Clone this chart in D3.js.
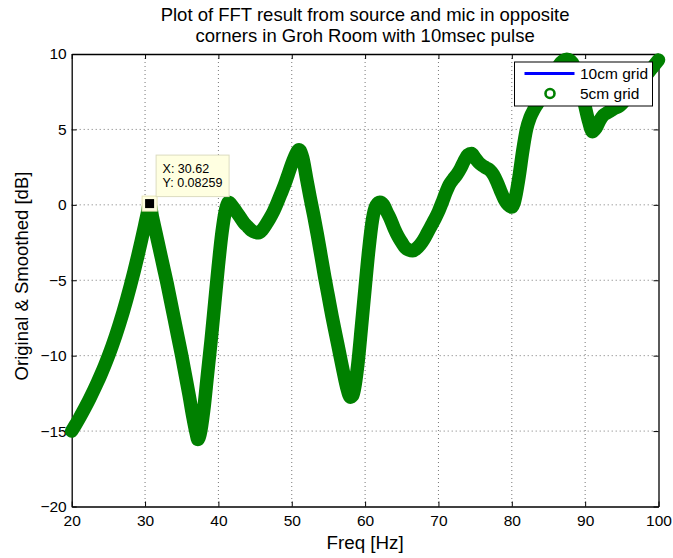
<!DOCTYPE html>
<html>
<head>
<meta charset="utf-8">
<script src="https://cdn.jsdelivr.net/npm/d3@7"></script>
<style>
  body { margin: 0; background: #fff; }
  text { font-family: "Liberation Sans", Arial, sans-serif; }
</style>
</head>
<body>
<div id="chart"></div>
<script>
// values
var freqHz = [20, 20.5, 21, 21.5, 22, 22.5, 23, 23.5, 24, 24.5, 25, 25.5, 26, 26.5, 27, 27.5, 28, 28.5, 29, 29.5,
  30, 30.3, 30.62, 31, 31.5, 32, 32.5, 33, 33.5, 34, 34.5, 35, 35.5, 36, 36.5, 37, 37.2, 37.5, 38, 38.5,
  39, 39.5, 40, 40.5, 41, 41.4, 42, 42.5, 43, 43.5, 44, 44.5, 45, 45.5, 46, 46.5, 47, 47.5, 48, 48.5,
  49, 49.5, 50, 50.5, 51, 51.5, 52, 52.5, 53, 53.5, 54, 54.5, 55, 55.5, 56, 56.5, 57, 57.5, 58, 58.3,
  58.5, 59, 59.5, 60, 60.5, 61, 61.5, 62, 62.5, 63, 63.5, 64, 64.5, 65, 65.5, 66, 66.5, 67, 67.5, 68,
  68.5, 69, 69.5, 70, 70.5, 71, 71.5, 72, 72.5, 73, 73.5, 74, 74.5, 75, 75.5, 76, 76.5, 77, 77.5, 78,
  78.5, 79, 79.5, 80, 80.3, 80.5, 81, 81.5, 82, 82.5, 83, 83.5, 84, 84.5, 85, 85.5, 86, 86.5, 87, 87.5,
  88, 88.5, 89, 89.5, 90, 90.5, 91, 91.5, 92, 92.5, 93, 93.5, 94, 94.5, 95, 95.5, 96, 96.5, 97, 97.5,
  98, 98.5, 99, 99.5, 100];

var grid10cm = [-15.0, -14.6, -14.18, -13.74, -13.28, -12.8, -12.3, -11.78, -11.23, -10.65, -10.03, -9.37, -8.67, -7.92, -7.12, -6.27, -5.37, -4.42, -3.42, -2.37,
  -1.27, -0.6, 0.08, -0.8, -1.9, -3.0, -4.1, -5.2, -6.4, -7.6, -8.8, -10.0, -11.3, -12.6, -14.0, -15.2, -15.55, -15.2, -13.6, -11.3,
  -9.0, -6.5, -4.0, -1.8, -0.3, 0.17, -0.15, -0.5, -0.85, -1.2, -1.45, -1.7, -1.82, -1.85, -1.65, -1.3, -0.9, -0.45, 0.1, 0.7,
  1.3, 2.0, 2.7, 3.3, 3.65, 3.1, 1.8, 0.5, -0.7, -2.0, -3.4, -4.8, -6.1, -7.4, -8.6, -9.8, -11.0, -12.1, -12.75, -12.65,
  -12.3, -10.6, -8.1, -5.5, -3.0, -1.0, -0.05, 0.17, 0.0, -0.5, -1.0, -1.6, -2.1, -2.5, -2.85, -3.0, -3.05, -2.9, -2.65, -2.3,
  -1.85, -1.4, -0.95, -0.45, 0.15, 0.8, 1.35, 1.7, 2.0, 2.4, 2.9, 3.3, 3.4, 3.1, 2.8, 2.6, 2.45, 2.3, 2.0, 1.5,
  0.9, 0.35, 0.0, -0.15, 0.1, 0.5, 1.9, 3.6, 5.0, 5.8, 6.3, 6.7, 7.1, 7.5, 8.0, 8.45, 8.9, 9.3, 9.55, 9.65,
  9.55, 9.2, 8.5, 7.6, 6.5, 5.5, 4.85, 5.1, 5.6, 5.95, 6.1, 6.25, 6.4, 6.5, 6.7, 7.0, 7.3, 7.6, 7.9, 8.15,
  8.4, 8.7, 9.0, 9.3, 9.6];

// the 5cm result lies right on top of the 10cm one in the picture
var grid5cm = [-15.0, -14.6, -14.18, -13.74, -13.28, -12.8, -12.3, -11.78, -11.23, -10.65, -10.03, -9.37, -8.67, -7.92, -7.12, -6.27, -5.37, -4.42, -3.42, -2.37,
  -1.27, -0.6, 0.08, -0.8, -1.9, -3.0, -4.1, -5.2, -6.4, -7.6, -8.8, -10.0, -11.3, -12.6, -14.0, -15.2, -15.55, -15.2, -13.6, -11.3,
  -9.0, -6.5, -4.0, -1.8, -0.3, 0.17, -0.15, -0.5, -0.85, -1.2, -1.45, -1.7, -1.82, -1.85, -1.65, -1.3, -0.9, -0.45, 0.1, 0.7,
  1.3, 2.0, 2.7, 3.3, 3.65, 3.1, 1.8, 0.5, -0.7, -2.0, -3.4, -4.8, -6.1, -7.4, -8.6, -9.8, -11.0, -12.1, -12.75, -12.65,
  -12.3, -10.6, -8.1, -5.5, -3.0, -1.0, -0.05, 0.17, 0.0, -0.5, -1.0, -1.6, -2.1, -2.5, -2.85, -3.0, -3.05, -2.9, -2.65, -2.3,
  -1.85, -1.4, -0.95, -0.45, 0.15, 0.8, 1.35, 1.7, 2.0, 2.4, 2.9, 3.3, 3.4, 3.1, 2.8, 2.6, 2.45, 2.3, 2.0, 1.5,
  0.9, 0.35, 0.0, -0.15, 0.1, 0.5, 1.9, 3.6, 5.0, 5.8, 6.3, 6.7, 7.1, 7.5, 8.0, 8.45, 8.9, 9.3, 9.55, 9.65,
  9.55, 9.2, 8.5, 7.6, 6.5, 5.5, 4.85, 5.1, 5.6, 5.95, 6.1, 6.25, 6.4, 6.5, 6.7, 7.0, 7.3, 7.6, 7.9, 8.15,
  8.4, 8.7, 9.0, 9.3, 9.6];

var xTicks = [20, 30, 40, 50, 60, 70, 80, 90, 100];
var yTicks = [-20, -15, -10, -5, 0, 5, 10];
var seriesNames = ["10cm grid", "5cm grid"];
var titleLines = ["Plot of FFT result from source and mic in opposite", "corners in Groh Room with 10msec pulse"];
var tipX = 30.62;
var tipY = 0.08259;

var svgWidth = 673;
var svgHeight = 558;

var margin = {top: 54, right: 14.5, bottom: 51.5, left: 71.7};
var width = svgWidth - margin.left - margin.right;
var height = svgHeight - margin.top - margin.bottom;

var svg = d3.select("#chart")
  .append("svg")
  .attr("width", svgWidth)
  .attr("height", svgHeight);

var g = svg.append("g")
  .attr("transform", "translate(" + margin.left + "," + margin.top + ")");

var x = d3.scaleLinear().domain([20, 100]).range([0, width]);
var y = d3.scaleLinear().domain([-20, 10]).range([height, 0]);

// dotted grid
g.append("g").selectAll("line")
  .data(xTicks.slice(1, -1))
  .enter().append("line")
  .attr("x1", d => x(d)).attr("x2", d => x(d))
  .attr("y1", 0).attr("y2", height)
  .attr("stroke", "#777").attr("stroke-width", 1).attr("stroke-dasharray", "1,3");

g.append("g").selectAll("line")
  .data(yTicks.slice(1, -1))
  .enter().append("line")
  .attr("y1", d => y(d)).attr("y2", d => y(d))
  .attr("x1", 0).attr("x2", width)
  .attr("stroke", "#777").attr("stroke-width", 1).attr("stroke-dasharray", "1,3");

// axes, ticks pointing inward like matlab
var xAxis = g.append("g")
  .attr("transform", "translate(0," + height + ")")
  .call(d3.axisBottom(x).tickValues(xTicks).tickSizeInner(-5).tickSizeOuter(0).tickPadding(8.5));
var xTop = g.append("g")
  .call(d3.axisTop(x).tickValues(xTicks).tickSizeInner(-5).tickSizeOuter(0).tickFormat(""));
var yAxis = g.append("g")
  .call(d3.axisLeft(y).tickValues(yTicks).tickSizeInner(-5).tickSizeOuter(0).tickPadding(5));
var yRight = g.append("g")
  .attr("transform", "translate(" + width + ",0)")
  .call(d3.axisRight(y).tickValues(yTicks).tickSizeInner(-5).tickSizeOuter(0).tickFormat(""));

[xAxis, xTop, yAxis, yRight].forEach(function(a) {
  a.select(".domain").attr("stroke", "#000").attr("stroke-width", 1.3);
  a.selectAll(".tick line").attr("stroke", "#000");
  a.selectAll("text").attr("font-size", 15.5).attr("fill", "#000")
    .style("font-family", "'Liberation Sans', Arial, sans-serif");
});
xAxis.selectAll("text").attr("dy", "0.71em");

var pts10 = freqHz.map((f, i) => [f, grid10cm[i]]);
var pts5 = freqHz.map((f, i) => [f, grid5cm[i]]);

var line = d3.line()
  .x(d => x(d[0]))
  .y(d => y(d[1]))
  .curve(d3.curveMonotoneX);

g.append("path")
  .datum(pts10)
  .attr("d", line)
  .attr("fill", "none")
  .attr("stroke", "#0000ff")
  .attr("stroke-width", 2);

// the dense ring markers of the 5cm series merge into one thick band
g.append("path")
  .datum(pts5)
  .attr("d", line)
  .attr("fill", "none")
  .attr("stroke", "#008000")
  .attr("stroke-width", 13.5)
  .attr("stroke-linejoin", "round")
  .attr("stroke-linecap", "round");

// data tip
var tip = g.append("g");
tip.append("rect")
  .attr("x", x(tipX) - 7.5).attr("y", y(tipY) - 7.5)
  .attr("width", 15).attr("height", 15)
  .attr("fill", "#ffffe1").attr("stroke", "#e8e4b8");
tip.append("rect")
  .attr("x", x(tipX) - 4.5).attr("y", y(tipY) - 4.5)
  .attr("width", 9).attr("height", 9)
  .attr("fill", "#000");
tip.append("rect")
  .attr("x", x(tipX) + 6.5).attr("y", y(tipY) - 48.5)
  .attr("width", 73).attr("height", 41.5)
  .attr("fill", "#ffffe1").attr("stroke", "#dcdcc0");
tip.append("text")
  .attr("x", x(tipX) + 13).attr("y", y(tipY) - 30.5)
  .attr("font-size", 12.5)
  .text("X: " + tipX);
tip.append("text")
  .attr("x", x(tipX) + 13).attr("y", y(tipY) - 17)
  .attr("font-size", 12.5)
  .text("Y: " + tipY);

// legend
var legend = svg.append("g").attr("transform", "translate(514.5,62)");
legend.append("rect")
  .attr("width", 138).attr("height", 44)
  .attr("fill", "#fff").attr("stroke", "#000").attr("stroke-width", 1);
legend.append("line")
  .attr("x1", 10).attr("x2", 60).attr("y1", 11.5).attr("y2", 11.5)
  .attr("stroke", "#0000ff").attr("stroke-width", 3);
legend.append("circle")
  .attr("cx", 35.5).attr("cy", 31.5).attr("r", 4.5)
  .attr("fill", "none").attr("stroke", "#008000").attr("stroke-width", 2.6);
legend.selectAll("text.lab")
  .data(seriesNames)
  .enter().append("text")
  .attr("class", "lab")
  .attr("x", 65.5)
  .attr("y", (d, i) => 17.3 + i * 20)
  .attr("font-size", 15.5)
  .text(d => d);

// title and axis labels
svg.selectAll("text.title")
  .data(titleLines)
  .enter().append("text")
  .attr("class", "title")
  .attr("x", margin.left + width / 2)
  .attr("y", (d, i) => 20.7 + i * 21)
  .attr("text-anchor", "middle")
  .attr("font-size", 18.5)
  .text(d => d);

svg.append("text")
  .attr("x", margin.left + width / 2)
  .attr("y", 549)
  .attr("text-anchor", "middle")
  .attr("font-size", 18.8)
  .text("Freq [Hz]");

svg.append("text")
  .attr("transform", "translate(27.5,276) rotate(-90)")
  .attr("text-anchor", "middle")
  .attr("font-size", 18.5)
  .text("Original & Smoothed [dB]");
</script>
</body>
</html>
